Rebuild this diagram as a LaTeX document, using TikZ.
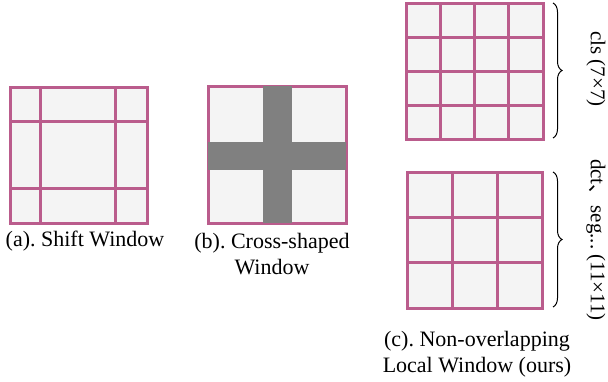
\documentclass[tikz,border=0pt]{standalone}
\usepackage{fontspec}
\setmainfont{Liberation Serif}
\newfontfamily\cjkfont{Noto Sans CJK SC}
\usetikzlibrary{decorations.pathreplacing}
\definecolor{gridpink}{RGB}{186,92,140}
\definecolor{cellfill}{RGB}{244,244,244}
\definecolor{crossgray}{RGB}{128,128,128}
\tikzset{
  winbox/.style={draw=gridpink, fill=cellfill, line width=3pt},
  gridline/.style={draw=gridpink, line width=3pt},
  crossbar/.style={fill=crossgray, draw=none},
  bracestyle/.style={decorate, decoration={brace, amplitude=9pt}, draw=black, line width=1pt},
  captext/.style={font=\fontsize{22}{26}\selectfont, align=center, inner sep=0pt},
  sidetext/.style={font=\fontsize{21}{24}\selectfont, rotate=-90, inner sep=0pt}
}
\frenchspacing
\begin{document}
\begin{tikzpicture}[x=1pt,y=-1pt]
\useasboundingbox (0,0) rectangle (608,381);
% (a) shift window
\draw[winbox] (10,87) rectangle (147,223);
\draw[gridline] (40,87) -- (40,223);
\draw[gridline] (115,87) -- (115,223);
\draw[gridline] (10,121) -- (147,121);
\draw[gridline] (10,188) -- (147,188);
\node[captext] (capa) at (85,241) {(a).\ Shift Window};
% (b) cross-shaped window
\draw[winbox] (208,86) rectangle (346,223);
\fill[crossgray] (263,86) rectangle (292,223);
\fill[crossgray] (208,142) rectangle (346,170);
\node[captext] (capb) at (272,254) {(b).\ Cross-shaped\\Window};
% (c) top 4x4
\draw[winbox] (406,3) rectangle (543,139);
\foreach \t in {1,2,3}{
  \draw[gridline] ({406+\t*137/4},3) -- ({406+\t*137/4},139);
  \draw[gridline] (406,{3+\t*136/4}) -- (543,{3+\t*136/4});
}
\draw[bracestyle] (553,3) -- (553,138);
\node[sidetext] (cls) at (596,69) {cls (7×7)};
% (c) bottom 3x3
\draw[winbox] (407,172) rectangle (542,308);
\foreach \t in {1,2}{
  \draw[gridline] ({407+\t*135/3},172) -- ({407+\t*135/3},308);
  \draw[gridline] (407,{172+\t*136/3}) -- (542,{172+\t*136/3});
}
\draw[bracestyle] (553,172) -- (553,307);
\node[sidetext] (dct) at (596,240) {dct{\cjkfont 、}seg... (11×11)};
\node[captext] (capc) at (477,354) {(c).\ Non-overlapping\\Local Window (ours)};
\end{tikzpicture}
\end{document}
